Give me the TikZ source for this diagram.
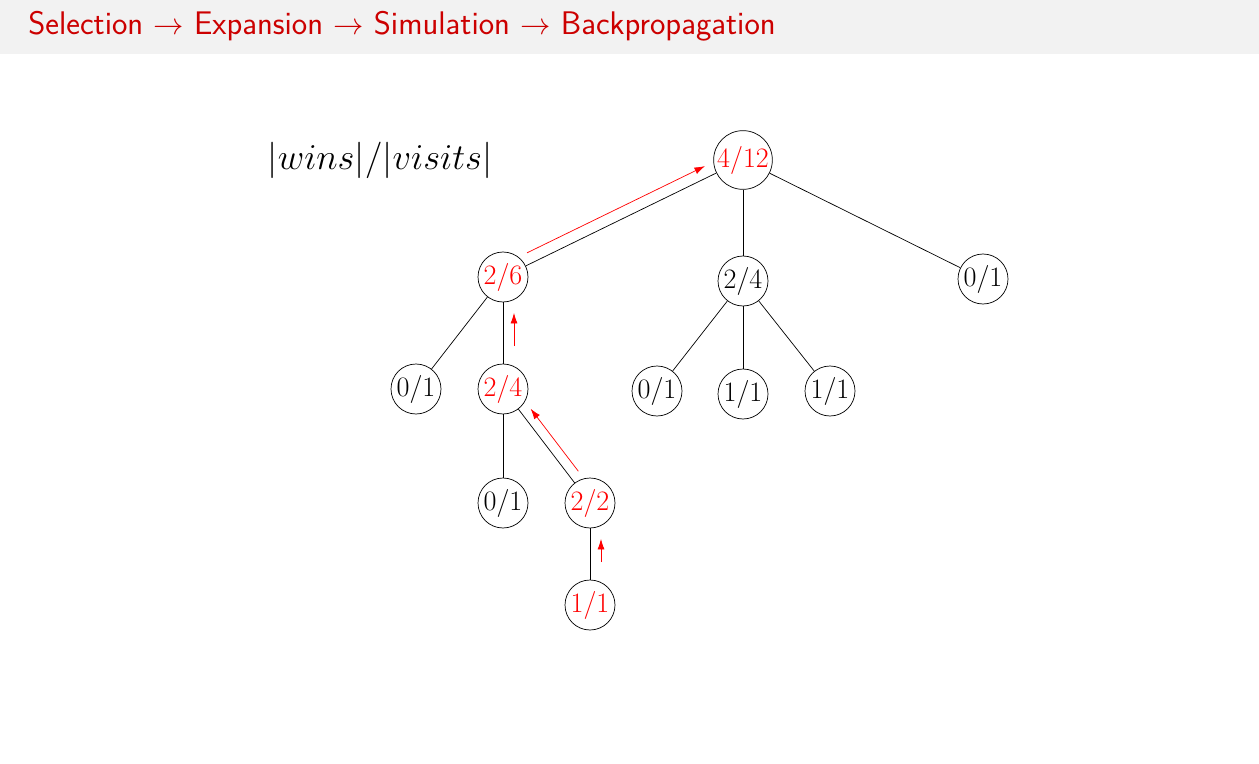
\documentclass[tikz,border=0pt]{standalone}
\usetikzlibrary{arrows.meta}
\definecolor{titlered}{rgb}{0.8,0,0}
\begin{document}
\begin{tikzpicture}[x=0.02cm,y=-0.02cm,
    every node/.style={align=center},
    mcts/.style={circle, draw=black, inner sep=0pt, minimum size=50*0.02cm, font=\fontsize{16}{18}\selectfont},
    hot/.style={mcts, text=red},
    backprop/.style={draw=red, -{Latex[length=6pt,width=4pt]}, shorten <=4pt, shorten >=4pt}]
    \useasboundingbox (0,0) rectangle (1259,764);
    \fill[gray!10] (0,0) rectangle (1259,54);
    \node(Title) at (28,26)[anchor=west, inner sep=0pt, text=titlered, font=\sffamily\fontsize{18.6}{20}\selectfont]{Selection $\rightarrow$ Expansion $\rightarrow$ Simulation $\rightarrow$ Backpropagation};
    \node(Legend) at (380,160){\fontsize{22}{26}\selectfont $|wins|/|visits|$};

    \node(root) at (743,160)[hot]{4/12};
    \node(a) at (503,277)[hot]{2/6};
    \node(b) at (743,281)[mcts]{2/4};
    \node(c) at (983,279)[mcts]{0/1};
    \node(aa) at (416,389)[mcts]{0/1};
    \node(ab) at (503,389)[hot]{2/4};
    \node(ba) at (657,391)[mcts]{0/1};
    \node(bb) at (743,394)[mcts]{1/1};
    \node(bc) at (830,391)[mcts]{1/1};
    \node(aba) at (503,503)[mcts]{0/1};
    \node(abb) at (590,503)[hot]{2/2};
    \node(abba) at (590,605)[hot]{1/1};

    \draw (root) -- (a);
    \draw (root) -- (b);
    \draw (root) -- (c);
    \draw (a) -- (aa);
    \draw (a) -- (ab);
    \draw (b) -- (ba);
    \draw (b) -- (bb);
    \draw (b) -- (bc);
    \draw (ab) -- (aba);
    \draw (ab) -- (abb);
    \draw (abb) -- (abba);

    % backpropagation path
    \draw[backprop, transform canvas={shift={(-5,-10)}}] (a) -- (root);
    \draw[backprop, shorten <=10pt, shorten >=6pt, transform canvas={shift={(11,0)}}] (ab) -- (a);
    \draw[backprop, transform canvas={shift={(8,-6)}}] (abb) -- (ab);
    \draw[backprop, shorten <=10pt, shorten >=6pt, transform canvas={shift={(11,0)}}] (abba) -- (abb);
\end{tikzpicture}
\end{document}
